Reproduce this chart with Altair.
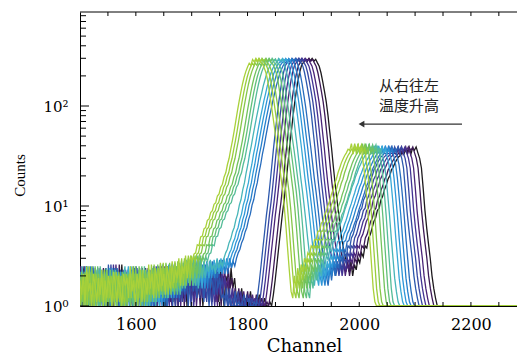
import altair as alt
import pandas as pd

# ---- three base spectra (hot = green, mid = cyan, cold = black),
# ---- written in the channel frame of the hottest spectrum, every 3 channels
STEP = 3

hot_floor_start = 1395
hot_floor = [
    1.5, 1.9, 1.1, 2.1, 1.0, 1.7, 2.4, 1.2, 1.8, 1.4,
    1.0, 2.0, 1.6, 1.1, 2.3, 1.3, 1.8, 1.0, 1.9, 1.5,
    2.2, 1.1, 1.7, 1.9, 1.2, 2.6, 1.4, 1.0, 2.0, 1.6,
    1.1, 1.9, 1.5, 2.2, 1.0, 1.8, 1.3, 2.1, 1.0, 2.5,
    1.4, 1.7, 1.0, 2.1, 1.6, 1.1, 1.9, 1.3, 2.3, 1.0,
    1.8, 1.2, 2.0, 1.5, 1.0, 2.2, 1.7, 1.1, 2.0, 1.4,
    1.0, 2.1, 1.6, 1.9, 1.2, 2.5, 1.4, 1.8, 1.0, 2.1,
    1.5, 2.3, 1.1, 1.9, 1.7, 1.3, 2.6, 1.5, 2.1, 1.2,
    2.4, 1.8, 1.4, 2.7, 1.6, 2.1, 1.3, 2.5, 1.9, 1.5,
    2.8, 1.7, 2.3, 1.9, 3.0, 1.6, 2.5, 2.1, 3.2, 1.9,
    2.7, 3.1,
]
hot_rise1_start = 1701
hot_rise1 = [2.8, 3.3, 3.4, 4.1, 4.0, 4.9, 5.0, 5.9, 6.1, 7.2, 7.4, 8.6, 9.0, 10.4,
             10.8, 12.6, 13.2, 15.4, 16.5, 19.5, 21.5, 26, 30, 37, 45, 56, 71, 90,
             112, 138, 166, 195, 222, 246]
hot_peak1_start = 1803
hot_peak1 = [268, 255, 292, 276, 300, 282, 296, 271, 262, 240]
hot_fall1_start = 1833
hot_fall1 = [215, 180, 140, 108, 82, 62, 46, 35, 26, 19, 14, 9.5, 6, 3.6, 2.2, 1.4]
hot_rise2_start = 1881
hot_rise2 = [1.2, 2.0, 1.5, 2.4, 1.8, 2.6, 2.2, 3.0, 2.7, 3.4, 3.2, 4.0, 3.8, 4.6,
             4.6, 5.6, 5.6, 6.7, 7.0, 8.2, 8.8, 10.2, 11.2, 13, 14.5, 16.8, 18.5,
             21.5, 24, 27, 29.5, 32, 34, 37]
hot_peak2_start = 1983
hot_peak2 = [36, 42, 33, 40, 37, 41, 34, 38]
hot_fall2_start = 2007
hot_fall2 = [27, 20, 13, 8, 4.5, 2.6, 1.5, 1.1, 1.0]

mid_floor_start = 1395
mid_floor = [
    1.2, 1.8, 1.0, 2.2, 1.5, 1.1, 2.0, 1.6, 1.0, 2.3,
    1.4, 1.9, 1.0, 1.7, 2.4, 1.2, 1.6, 2.0, 1.0, 1.8,
    1.3, 2.2, 1.5, 1.0, 2.0, 1.7, 1.2, 2.5, 1.4, 1.0,
    1.9, 1.5, 2.1, 1.1, 1.7, 2.3, 1.3, 1.0, 2.0, 1.6,
    1.1, 2.4, 1.5, 1.9, 1.0, 1.7, 2.2, 1.2, 1.6, 2.0,
    1.0, 1.8, 2.5, 1.3, 1.7, 1.0, 2.1, 1.5, 1.9, 1.2,
    2.3, 1.4, 1.0, 2.0, 1.6, 2.2, 1.1, 1.8, 2.4, 1.5,
    1.0, 2.1, 1.7, 1.3, 2.6, 1.6, 2.0, 1.2, 2.3, 1.8,
    1.4, 2.5, 1.9, 1.6, 2.7, 2.0, 2.4, 1.8, 2.9, 2.2,
    1.6, 2.1, 2.6, 1.7, 2.4, 1.5, 2.8, 2.0, 2.5, 1.9,
    2.7, 2.2, 2.9, 2.3, 2.6, 2.1, 3.0, 2.4, 2.8, 2.5,
]
mid_rise1_start = 1725
mid_rise1 = [3.0, 3.4, 3.7, 4.3, 4.7, 5.5, 6.1, 7.3, 8.3, 10.2, 11.6, 14.5, 17, 21.5,
             26, 33, 40, 50, 62, 76, 92, 112, 132, 158, 182, 210, 232, 254, 268]
mid_peak1_start = 1812
mid_peak1 = [280, 293, 274, 299, 284, 294, 278]
mid_fall1_start = 1833
mid_fall1 = [240, 205, 165, 128, 98, 72, 52, 38, 27, 19, 14, 10, 7, 4.8, 3.4, 2.5, 2.0]
mid_rise2_start = 1884
mid_rise2 = [1.6, 2.4, 1.8, 2.6, 2.0, 2.8, 2.4, 3.2, 2.9, 3.7, 3.5, 4.4, 4.5, 5.3,
             5.7, 6.5, 7.2, 8.2, 9.4, 10.5, 12, 13.5, 15.5, 17, 19.5, 21.5, 24, 26,
             28.5, 30.5, 33, 34, 36]
mid_peak2_start = 1983
mid_peak2 = [38, 33, 40, 35, 39, 34, 37, 31]
mid_fall2_start = 2007
mid_fall2 = [26, 19, 12.5, 8, 4.8, 3.0, 1.9, 1.4, 1.1, 1.0]

cold_floor_start = 1395
cold_floor = [
    1.0, 1.6, 2.0, 1.2, 1.8, 1.0, 2.3, 1.4, 1.7, 1.1,
    2.1, 1.5, 1.0, 1.9, 2.5, 1.2, 1.6, 1.0, 2.2, 1.4,
    1.8, 1.0, 2.0, 1.3, 1.7, 2.4, 1.1, 1.5, 1.9, 1.0,
    2.2, 1.4, 1.8, 1.0, 2.6, 1.3, 1.6, 2.0, 1.1, 1.7,
    1.0, 2.3, 1.5, 1.2, 1.9, 1.0, 2.1, 1.6, 1.3, 2.4,
    1.1, 1.8, 1.4, 2.0, 1.0, 1.7, 2.2, 1.3, 1.6, 1.0,
    2.5, 1.5, 1.9, 1.1, 2.0, 1.4, 1.0, 2.3, 1.7, 1.2,
    1.9, 1.0, 2.2, 1.5, 1.8, 1.1, 2.4, 1.6, 1.3, 2.0,
    1.0, 1.7, 2.1, 1.4, 1.9, 1.2, 2.6, 1.5, 1.8, 1.1,
    2.2, 1.6, 1.0, 2.0, 1.7, 1.3, 2.4, 1.5, 1.9, 1.2,
]
cold_low_start = 1695
cold_low = [1.3, 1.0, 1.5, 1.0, 1.2, 1.0, 1.0, 1.4, 1.0, 1.1,
            1.0, 1.0, 1.3, 1.0, 1.0, 1.2, 1.0, 1.0, 1.1, 1.0]
cold_rise1_start = 1755
cold_rise1 = [1.3, 1.8, 2.6, 3.8, 5.5, 8, 11, 16, 24, 36, 52, 75, 105, 140, 180, 220, 255]
cold_peak1_start = 1806
cold_peak1 = [272, 288, 276, 298, 284, 300, 281, 293, 270]
cold_fall1_start = 1833
cold_fall1 = [250, 215, 175, 140, 110, 80, 55, 38, 25, 17, 12, 8.5, 6, 4.5, 3.6, 3.0, 2.6]
cold_rise2_start = 1884
cold_rise2 = [2.2, 2.8, 2.0, 2.6, 2.3, 3.0, 2.7, 3.4, 3.1, 4.0, 3.8, 4.8, 5.2, 6.0,
              7.0, 7.6, 9.0, 9.5, 11.5, 12.5, 14.5, 16, 18.5, 20, 23, 24.5, 27, 29,
              31, 32, 34, 33, 36]
cold_peak2_start = 1983
cold_peak2 = [35, 39, 33, 38, 36, 39, 34]
cold_fall2_start = 2004
cold_fall2 = [30, 24, 15, 9, 6, 4.2, 3.0, 2.0, 1.5, 1.2, 1.0]

tail_channels = [2037, 2290]
tail_counts = [1.0, 1.0]

# channel gain of each spectrum (hottest -> coldest), the base shape it uses, its colour
gains = [1.000, 1.003, 1.006, 1.010, 1.013, 1.016, 1.019, 1.023, 1.026,
         1.029, 1.032, 1.036, 1.039, 1.042, 1.045, 1.049, 1.052]
shape_of = ["hot", "hot", "hot", "hot", "hot", "hot", "mid", "mid", "mid",
            "mid", "mid", "cold", "cold", "cold", "cold", "cold", "cold"]
colors_hot_to_cold = ["#a9d13a", "#9acd3c", "#86c74a", "#72c35c", "#62c07a", "#55bc98",
                      "#47b5b8", "#38a8d6", "#2d95d8", "#2680cc", "#276cbd", "#2c58ad",
                      "#3646a0", "#433393", "#4a2478", "#3d1a56", "#1e1a1e"]

x_labels = [1600, 1800, 2000, 2200]
x_minor = [1550, 1600, 1650, 1700, 1750, 1800, 1850, 1900, 1950, 2000,
           2050, 2100, 2150, 2200, 2250]
y_major = [1, 10, 100]
y_minor = [2, 3, 4, 5, 6, 7, 8, 9, 20, 30, 40, 50, 60, 70, 80, 90,
           200, 300, 400, 500, 600, 700, 800]

note_lines = ["从右往左", "温度升高"]
note_x = [2089, 2089]
note_y = [158, 100]
arrow_from = 2184
arrow_to = 2004
arrow_y = 66

# ---- build table ----
shapes = {
    "hot": [(hot_floor_start, hot_floor), (hot_rise1_start, hot_rise1),
            (hot_peak1_start, hot_peak1), (hot_fall1_start, hot_fall1),
            (hot_rise2_start, hot_rise2), (hot_peak2_start, hot_peak2),
            (hot_fall2_start, hot_fall2)],
    "mid": [(mid_floor_start, mid_floor), (mid_rise1_start, mid_rise1),
            (mid_peak1_start, mid_peak1), (mid_fall1_start, mid_fall1),
            (mid_rise2_start, mid_rise2), (mid_peak2_start, mid_peak2),
            (mid_fall2_start, mid_fall2)],
    "cold": [(cold_floor_start, cold_floor), (cold_low_start, cold_low),
             (cold_rise1_start, cold_rise1),
             (cold_peak1_start, cold_peak1), (cold_fall1_start, cold_fall1),
             (cold_rise2_start, cold_rise2), (cold_peak2_start, cold_peak2),
             (cold_fall2_start, cold_fall2)],
}
base = {}
for name, segs in shapes.items():
    chs, cts = [], []
    for start, vals in segs:
        for k, v in enumerate(vals):
            chs.append(start + STEP * k)
            cts.append(v)
    base[name] = (chs + tail_channels, cts + tail_counts)

n = len(gains)
rows = []
spec_ids = []
for j in range(n - 1, -1, -1):  # coldest first so the hottest is drawn on top
    sid = f"s{n - 1 - j:02d}"
    spec_ids.append(sid)
    chs, cts = base[shape_of[j]]
    for c, v in zip(chs, cts):
        rows.append({"channel": c * gains[j], "counts": v, "spec": sid})
df = pd.DataFrame(rows)
colors_cold_to_hot = colors_hot_to_cold[::-1]

W, H = 437, 294
FONT = "DejaVu Serif"
xscale = alt.Scale(domain=[1500, 2282.5], nice=False, zero=False)
yscale = alt.Scale(type="log", domain=[1, 871], nice=False)

x_axis = alt.Axis(values=x_labels, format="d", title="Channel", grid=False,
                  ticks=False, domainColor="black", labelFont=FONT,
                  labelFontSize=16, labelColor="black", labelPadding=10,
                  titleFont=FONT, titleFontSize=18, titleFontWeight="normal",
                  titleColor="black", titleX=224, titleY=40,
                  titleBaseline="middle", titleAlign="center")
y_axis = alt.Axis(values=y_major, grid=False, ticks=False, domainColor="black",
                  labelExpr="datum.value == 1 ? '10⁰' : datum.value == 10 ? '10¹' : '10²'",
                  labelFont=FONT, labelFontSize=15, labelColor="black",
                  labelPadding=12, title="Counts", titleFont="Liberation Serif",
                  titleFontSize=15, titleFontWeight="normal", titleColor="black",
                  titleAngle=270, titleX=-61, titleY=163,
                  titleAlign="center", titleBaseline="middle")

lines = alt.Chart(df).mark_line(strokeWidth=1.3, clip=True).encode(
    x=alt.X("channel:Q", scale=xscale, axis=x_axis),
    y=alt.Y("counts:Q", scale=yscale, axis=y_axis),
    color=alt.Color("spec:N", scale=alt.Scale(domain=spec_ids, range=colors_cold_to_hot),
                    legend=None),
    detail="spec:N",
)

ymaj = alt.Chart(pd.DataFrame({"v": y_major})).mark_rule(color="black").encode(
    y=alt.Y("v:Q", scale=yscale, axis=y_axis), x=alt.value(0), x2=alt.value(9))
ymin = alt.Chart(pd.DataFrame({"v": y_minor})).mark_rule(color="black").encode(
    y=alt.Y("v:Q", scale=yscale, axis=y_axis), x=alt.value(0), x2=alt.value(6))
xtop = alt.Chart(pd.DataFrame({"v": x_minor})).mark_rule(color="black").encode(
    x=alt.X("v:Q", scale=xscale, axis=x_axis), y=alt.value(0), y2=alt.value(4))
xbot = alt.Chart(pd.DataFrame({"v": x_minor})).mark_rule(color="black").encode(
    x=alt.X("v:Q", scale=xscale, axis=x_axis), y=alt.value(H), y2=alt.value(H - 4))
topline = alt.Chart(pd.DataFrame({"a": [0]})).mark_rule(color="black").encode(
    x=alt.value(0), x2=alt.value(W), y=alt.value(0))

notes = alt.Chart(pd.DataFrame({"x": note_x, "y": note_y, "t": note_lines})).mark_text(
    font="Noto Sans CJK SC", fontSize=15, color="#222222").encode(
    x=alt.X("x:Q", scale=xscale, axis=x_axis), y=alt.Y("y:Q", scale=yscale, axis=y_axis),
    text="t:N")
arrow_df = pd.DataFrame({"x1": [arrow_from], "x2": [arrow_to], "y": [arrow_y]})
arrow_line = alt.Chart(arrow_df).mark_rule(color="#333333", strokeWidth=1.3).encode(
    x=alt.X("x1:Q", scale=xscale, axis=x_axis), x2="x2:Q",
    y=alt.Y("y:Q", scale=yscale, axis=y_axis))
arrow_head = alt.Chart(arrow_df).mark_point(shape="triangle-left", filled=True, size=45,
                                            color="#333333", opacity=1).encode(
    x=alt.X("x2:Q", scale=xscale, axis=x_axis), y=alt.Y("y:Q", scale=yscale, axis=y_axis))

chart = alt.layer(lines, ymaj, ymin, xtop, xbot, topline, notes, arrow_line, arrow_head).properties(
    width=W, height=H,
    autosize=alt.AutoSizeParams(type="none"),
    padding={"left": 80, "top": 12, "right": 0, "bottom": 48},
    background="white",
).configure_view(stroke=None)

chart.save("out.html", embed_options={"renderer": "svg", "actions": False})
